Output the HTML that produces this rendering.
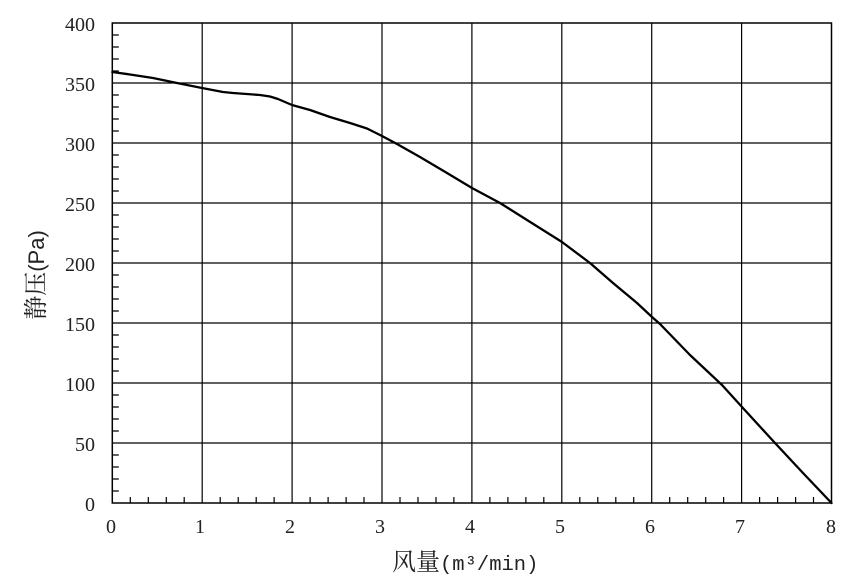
<!DOCTYPE html>
<html><head><meta charset="utf-8"><style>
html,body{margin:0;padding:0;background:#fff;}
svg{display:block;}
</style></head><body>
<svg width="850" height="582" viewBox="0 0 850 582" xmlns="http://www.w3.org/2000/svg">
<rect width="850" height="582" fill="#fff"/>
<g stroke="#000" stroke-width="1.2" fill="none">
<line x1="202.2" y1="23" x2="202.2" y2="503"/>
<line x1="292.1" y1="23" x2="292.1" y2="503"/>
<line x1="382" y1="23" x2="382" y2="503"/>
<line x1="471.9" y1="23" x2="471.9" y2="503"/>
<line x1="561.8" y1="23" x2="561.8" y2="503"/>
<line x1="651.7" y1="23" x2="651.7" y2="503"/>
<line x1="741.6" y1="23" x2="741.6" y2="503"/>
<line x1="112.3" y1="83" x2="831.5" y2="83"/>
<line x1="112.3" y1="143" x2="831.5" y2="143"/>
<line x1="112.3" y1="203" x2="831.5" y2="203"/>
<line x1="112.3" y1="263" x2="831.5" y2="263"/>
<line x1="112.3" y1="323" x2="831.5" y2="323"/>
<line x1="112.3" y1="383" x2="831.5" y2="383"/>
<line x1="112.3" y1="443" x2="831.5" y2="443"/>
<rect x="112.3" y="23" width="719.2" height="480" stroke-width="1.5"/>
</g>
<polyline fill="none" stroke="#000" stroke-width="2.3" stroke-linejoin="round" stroke-linecap="round" points="112.3,72 130,74.5 153,78 177,83 202,88 223,92 233,93 260,95 270,96.5 278,99 292,105 310,110 330,117 350,123 367,128.5 382,136 397,144 420,157 447,173 472,188 500,203 527,220 562,242 590,263 613,283 637,303 652,317 660,324 690,355 722,385 742,407 775,443 803,473 831.5,503"/>
<g font-family="'Liberation Serif', serif" font-size="20" fill="#222">
<text x="95" y="31" text-anchor="end">400</text>
<text x="95" y="91" text-anchor="end">350</text>
<text x="95" y="151" text-anchor="end">300</text>
<text x="95" y="211" text-anchor="end">250</text>
<text x="95" y="271" text-anchor="end">200</text>
<text x="95" y="331" text-anchor="end">150</text>
<text x="95" y="391" text-anchor="end">100</text>
<text x="95" y="451" text-anchor="end">50</text>
<text x="95" y="511" text-anchor="end">0</text>
<text x="111" y="533" text-anchor="middle">0</text>
<text x="200" y="533" text-anchor="middle">1</text>
<text x="290" y="533" text-anchor="middle">2</text>
<text x="380" y="533" text-anchor="middle">3</text>
<text x="470" y="533" text-anchor="middle">4</text>
<text x="560" y="533" text-anchor="middle">5</text>
<text x="650" y="533" text-anchor="middle">6</text>
<text x="740" y="533" text-anchor="middle">7</text>
<text x="831" y="533" text-anchor="middle">8</text>
</g>
<text x="392" y="570" fill="#222" font-family="'Liberation Serif','Noto Serif CJK SC',serif" font-size="24"><tspan font-family="'Noto Serif CJK SC',serif">风量</tspan><tspan font-family="'Liberation Mono',monospace" font-size="20.5">(m³/min)</tspan></text>
<text transform="translate(44,275) rotate(-90)" text-anchor="middle" fill="#222" font-family="'Liberation Serif','Noto Serif CJK SC',serif" font-size="24"><tspan font-family="'Noto Serif CJK SC',serif">静压</tspan><tspan font-family="'Liberation Sans',sans-serif" font-size="22">(Pa)</tspan></text>
<g stroke="#000" stroke-width="1.2">
<path d="M130.3 503v-6M148.3 503v-6M166.3 503v-6M184.2 503v-6M220.2 503v-6M238.2 503v-6M256.2 503v-6M274.1 503v-6M310.1 503v-6M328.1 503v-6M346.1 503v-6M364 503v-6M400 503v-6M418 503v-6M436 503v-6M453.9 503v-6M489.9 503v-6M507.9 503v-6M525.9 503v-6M543.8 503v-6M579.8 503v-6M597.8 503v-6M615.8 503v-6M633.7 503v-6M669.7 503v-6M687.7 503v-6M705.7 503v-6M723.6 503v-6M759.6 503v-6M777.6 503v-6M795.6 503v-6M813.5 503v-6"/>
<path d="M112.3 35h6.5M112.3 47h6.5M112.3 59h6.5M112.3 71h6.5M112.3 95h6.5M112.3 107h6.5M112.3 119h6.5M112.3 131h6.5M112.3 155h6.5M112.3 167h6.5M112.3 179h6.5M112.3 191h6.5M112.3 215h6.5M112.3 227h6.5M112.3 239h6.5M112.3 251h6.5M112.3 275h6.5M112.3 287h6.5M112.3 299h6.5M112.3 311h6.5M112.3 335h6.5M112.3 347h6.5M112.3 359h6.5M112.3 371h6.5M112.3 395h6.5M112.3 407h6.5M112.3 419h6.5M112.3 431h6.5M112.3 455h6.5M112.3 467h6.5M112.3 479h6.5M112.3 491h6.5"/>
</g>
</svg>
</body></html>
